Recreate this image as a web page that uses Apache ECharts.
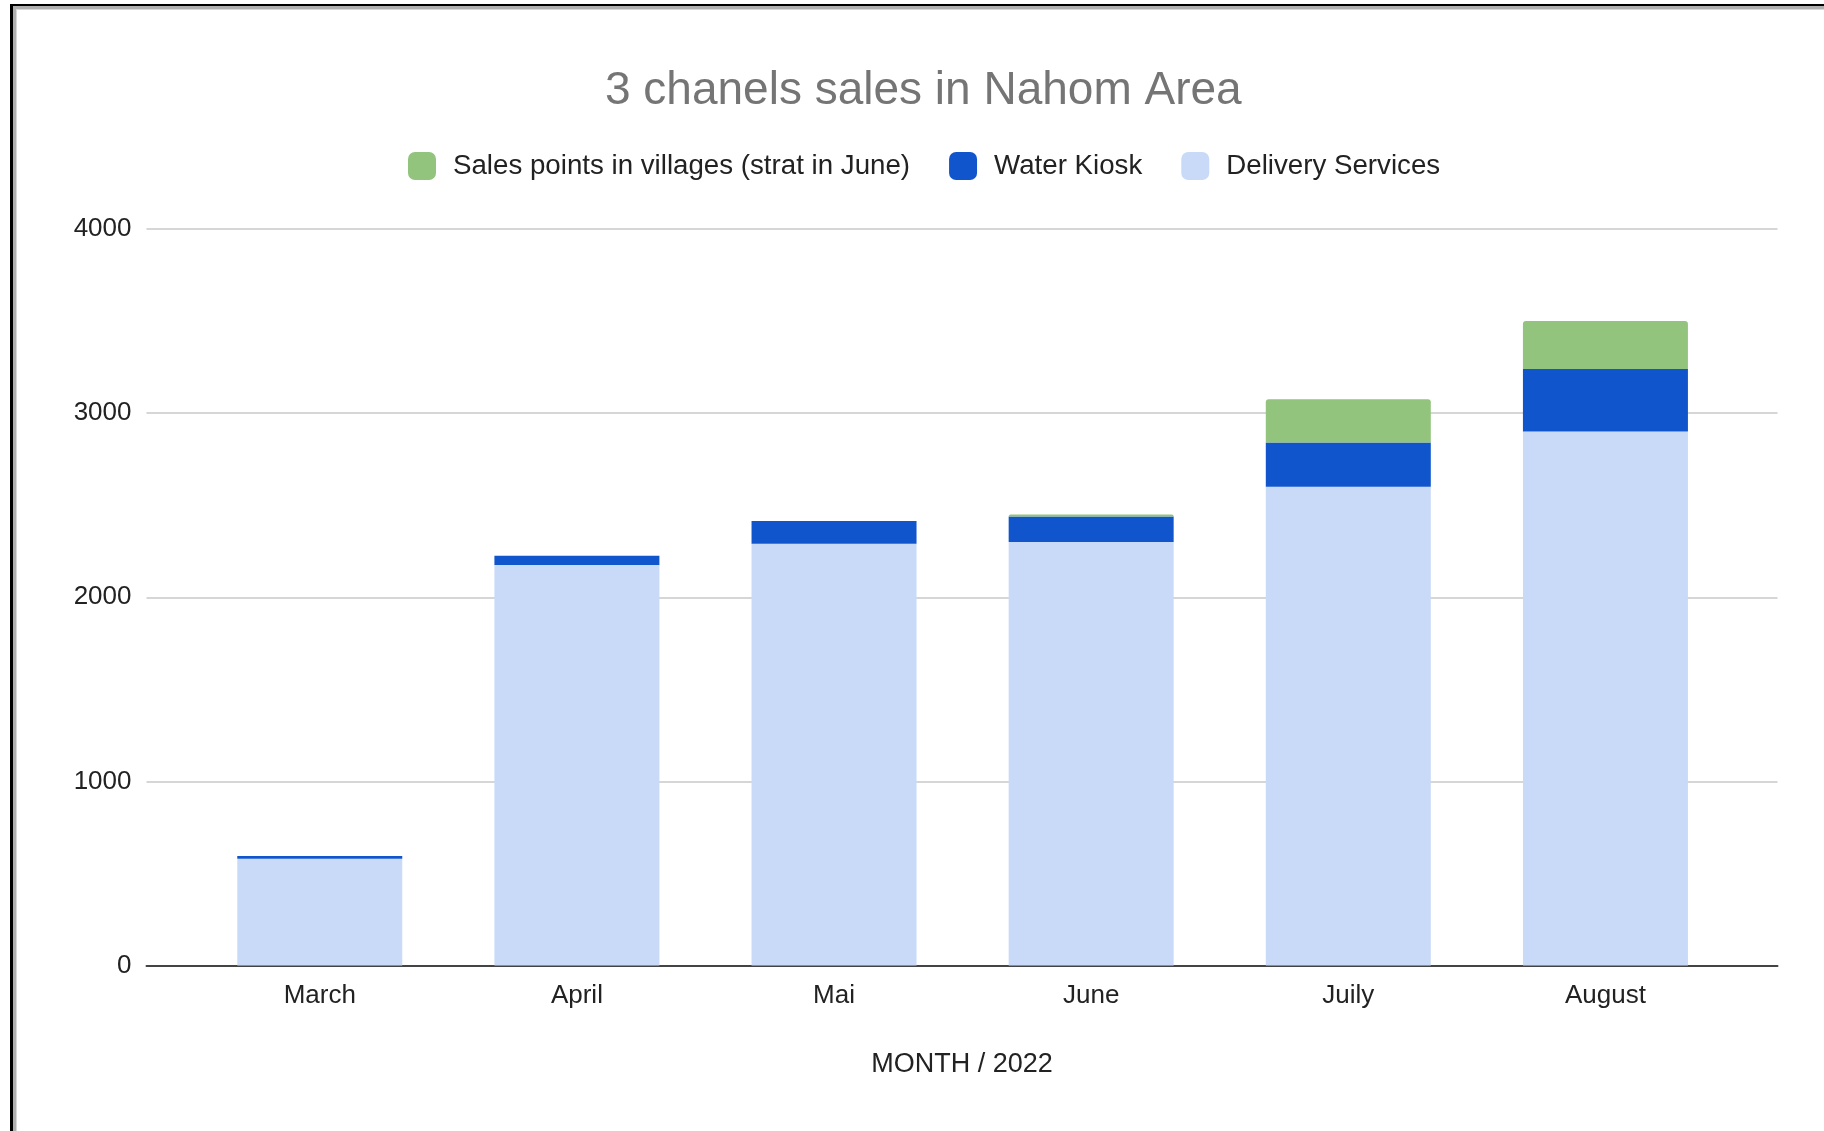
<!DOCTYPE html>
<html>
<head>
<meta charset="utf-8">
<script src="https://cdn.jsdelivr.net/npm/echarts@6/dist/echarts.min.js"></script>
<style>
html,body{margin:0;padding:0;background:#fff;}
#chart{position:absolute;left:0;top:0;width:1824px;height:1131px;}
#frame{position:absolute;left:10px;top:4px;width:1900px;height:1300px;border-left:3px solid #000;border-top:2px solid #000;box-shadow:inset 3px 3px 0 #b0b0b0, inset 4px 4px 0 #d8d8d8;pointer-events:none;z-index:5;}
</style>
</head>
<body>
<div id="chart"></div>
<div id="frame"></div>
<script>
const months = ['March', 'April', 'Mai', 'June', 'Juily', 'August'];
const deliveryServices = [580, 2175, 2290, 2300, 2600, 2900];
const waterKiosk = [15, 50, 124, 138, 240, 340];
const salesPoints = [0, 0, 0, 11, 236, 260];
const yTicks = [0, 1000, 2000, 3000, 4000];

const FONT = '"Liberation Sans", Arial, sans-serif';
const chart = echarts.init(document.getElementById('chart'));
const option = {
  animation: false,
  textStyle: { fontFamily: FONT },
  title: {
    text: '3 chanels sales in Nahom Area',
    left: 600, top: 63,
    textStyle: { fontFamily: FONT, fontSize: 46, fontWeight: 'normal', color: '#757575' }
  },
  legend: {
    left: 403, top: 147, padding: 5,
    itemWidth: 28, itemHeight: 28, itemGap: 39,
    icon: 'roundRect',
    data: ['Sales points in villages (strat in June)', 'Water Kiosk', 'Delivery Services'],
    textStyle: { fontFamily: FONT, fontSize: 27.7, color: '#222', padding: [0, 0, 0, 12] }
  },
  grid: [
    { left: 146.5, right: 46.5, top: 229, bottom: 165.5 },
    { left: 191.2, right: 90, top: 229, bottom: 165.5 }
  ],
  xAxis: [
    {
      gridIndex: 0, type: 'value', min: 0, max: 1,
      axisLine: { show: true, lineStyle: { color: '#444', width: 2 } },
      axisTick: { show: false }, axisLabel: { show: false }, splitLine: { show: false },
      name: 'MONTH / 2022', nameLocation: 'middle', nameGap: 86,
      nameTextStyle: { fontFamily: FONT, fontSize: 27, color: '#222' }
    },
    {
      gridIndex: 1, type: 'category', data: months,
      axisLine: { show: false }, axisTick: { show: false },
      axisLabel: { fontFamily: FONT, fontSize: 26, color: '#222', margin: 17 }
    }
  ],
  yAxis: [
    {
      gridIndex: 0, type: 'value', min: yTicks[0], max: yTicks[yTicks.length - 1], interval: 1000,
      axisLine: { show: false }, axisTick: { show: false },
      axisLabel: { fontFamily: FONT, fontSize: 26, color: '#222', margin: 15, formatter: function (v) { return String(v); } },
      splitLine: { lineStyle: { color: '#d6d6d6', width: 2 } }
    },
    {
      gridIndex: 1, type: 'value', min: 0, max: 4000, show: false,
      splitLine: { show: false }
    }
  ],
  series: [
    {
      name: 'Delivery Services', type: 'bar', stack: 'total', xAxisIndex: 1, yAxisIndex: 1,
      data: deliveryServices, barWidth: 165, itemStyle: { color: '#c9daf8' }
    },
    {
      name: 'Water Kiosk', type: 'bar', stack: 'total', xAxisIndex: 1, yAxisIndex: 1,
      data: waterKiosk, barWidth: 165, itemStyle: { color: '#1155cc' }
    },
    {
      name: 'Sales points in villages (strat in June)', type: 'bar', stack: 'total', xAxisIndex: 1, yAxisIndex: 1,
      data: salesPoints, barWidth: 165, itemStyle: { color: '#93c47d', borderRadius: [3, 3, 0, 0] }
    }
  ]
};
chart.setOption(option);
</script>
</body>
</html>
